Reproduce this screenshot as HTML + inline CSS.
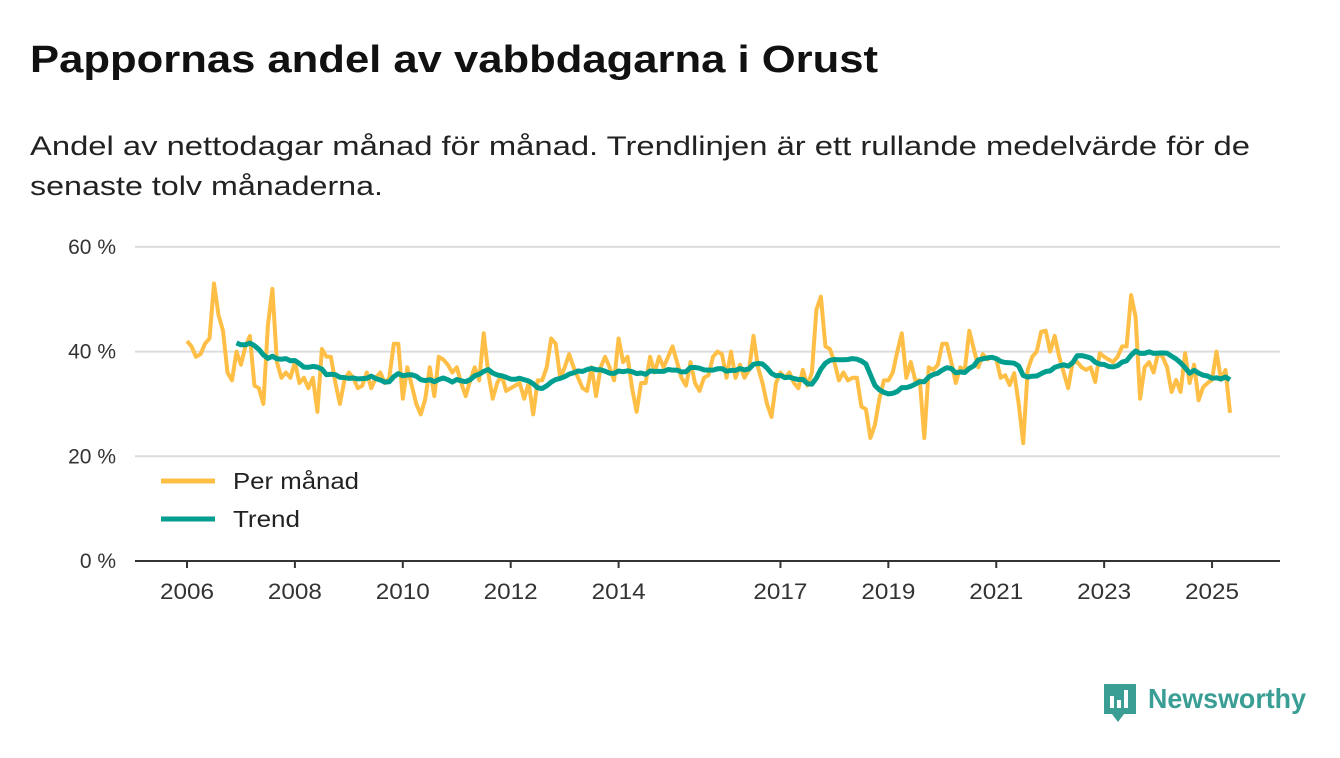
<!DOCTYPE html>
<html><head><meta charset="utf-8"><style>
body{margin:0;background:#fff;width:1340px;height:753px;overflow:hidden;font-family:"Liberation Sans",sans-serif;}
</style></head><body>
<svg width="1340" height="753" xmlns="http://www.w3.org/2000/svg">
<text x="30" y="72" font-size="38" font-weight="bold" fill="#111" textLength="848" lengthAdjust="spacingAndGlyphs">Pappornas andel av vabbdagarna i Orust</text>
<text x="30" y="155" font-size="27" fill="#222" textLength="1220" lengthAdjust="spacingAndGlyphs">Andel av nettodagar månad för månad. Trendlinjen är ett rullande medelvärde för de</text>
<text x="30" y="195" font-size="27" fill="#222" textLength="353" lengthAdjust="spacingAndGlyphs">senaste tolv månaderna.</text>
<g id="grid"></g><g id="xaxis"></g><g id="series"></g>
<g>
<line x1="161" y1="481" x2="215" y2="481" stroke="#ffbf47" stroke-width="5"/>
<text x="233" y="489" font-size="23" fill="#222" textLength="126" lengthAdjust="spacingAndGlyphs">Per månad</text>
<line x1="161" y1="519" x2="215" y2="519" stroke="#009e8f" stroke-width="5"/>
<text x="233" y="527" font-size="23" fill="#222" textLength="67" lengthAdjust="spacingAndGlyphs">Trend</text>
</g>
<g>
<path d="M1104 684h32v30h-12l-6 8-6-8h-8z" fill="#3a9e95"/>
<rect x="1110" y="696" width="4" height="12" fill="#fff"/><rect x="1117" y="700" width="4" height="8" fill="#fff"/><rect x="1124" y="690" width="4" height="18" fill="#fff"/>
<text x="1148" y="708" font-size="28" font-weight="bold" fill="#3a9e95" textLength="158" lengthAdjust="spacingAndGlyphs">Newsworthy</text>
</g>
</svg>
<script>
const startYear = 2006;
const monthly = [
42,41,39,39.5,41.5,42.5,53,47,44,36,34.5,40,
37.5,41,43,33.5,33,30,45,52,38,35,36,35,
38,34,35,33,35,28.5,40.5,39,39,34,30,34.5,
36,35,33,33.5,36,33,35,36,34,35,41.5,41.5,
31,37,33.5,30,28,31,37,31.5,39,38.5,37.5,36,
37,34,31.5,34.5,37,34.5,43.5,36,31,34,35.5,32.5,
33,33.5,34,31,34,28,34.5,34.5,37,42.5,41.5,35,
37,39.5,37,35,33,32.5,37,31.5,37,39,37,34.5,
42.5,38,39,33,28.5,34,34,39,36,39,37,39,
41,38,35,33.5,38,34,32.5,35,35.5,39,40,39.5,
35,40,35,37.5,35,36.5,43,37,34,30,27.5,34,
36,35,36,34,33,36.5,33.5,36,48,50.5,41,40.5,
38,34.5,36,34.5,35,35,29.5,29,23.5,26,31,34.5,
34.5,36,40,43.5,35,38,34.5,34.5,23.5,37,36.5,37.5,
41.5,41.5,38,34,37,36.5,44,40.5,37,39.5,38.5,39,
38.5,35,35.5,33.6,35.9,30,22.5,36.5,39,40,43.8,44,
40,43,39,36,33,38,38,37,36.5,37,34.2,39.7,
39,38.5,38,39,41,41,50.8,46.6,31,37,38,36,
39.7,39,37,32.3,34.6,32.3,39.7,34,37.5,30.7,33.2,34,
34.6,40,34.6,36.5,28.3];
const yTicks = [0,20,40,60];
const xTickYears = [2006,2008,2010,2012,2014,2017,2019,2021,2023,2025];

const NS="http://www.w3.org/2000/svg";
const x0=187, pxYear=53.95, y0=561, pxPct=5.235;
const xm=i=>x0+pxYear*i/12;
const xy=yr=>x0+pxYear*(yr-startYear);
const yv=v=>y0-v*pxPct;
function mk(tag,attrs,parent){const e=document.createElementNS(NS,tag);for(const k in attrs)e.setAttribute(k,attrs[k]);parent.appendChild(e);return e;}
const grid=document.getElementById('grid'),xa=document.getElementById('xaxis'),ser=document.getElementById('series');
yTicks.forEach(t=>{
  if(t>0){const l=mk('line',{x1:135,x2:1280,y1:yv(t),y2:yv(t),stroke:'#dcdcdc','stroke-width':2},grid);
  
  }
  const tx=mk('text',{x:116,y:yv(t)+7,'font-size':21,'text-anchor':'end',fill:'#333'},grid);tx.textContent=t+' %';
  
  
});
const ax=mk('line',{x1:135,x2:1280,y1:y0,y2:y0,stroke:'#333','stroke-width':2},xa);


xTickYears.forEach(yr=>{
  const tk=mk('line',{x1:xy(yr),x2:xy(yr),y1:y0,y2:y0+7,stroke:'#333','stroke-width':2},xa);
  
  
  const tx=mk('text',{x:xy(yr),y:599,'font-size':22,'text-anchor':'middle',fill:'#333',textLength:54,lengthAdjust:'spacingAndGlyphs'},xa);tx.textContent=yr;
  
  
});
const mp=monthly.map((v,i)=>xm(i).toFixed(1)+','+yv(v).toFixed(1)).join(' ');
const pm=mk('polyline',{points:mp,fill:'none',stroke:'#ffbf47','stroke-width':4,'stroke-linejoin':'round'},ser);


const tp=[];
for(let i=11;i<monthly.length;i++){let s=0;for(let j=i-11;j<=i;j++)s+=monthly[j];tp.push(xm(i).toFixed(1)+','+yv(s/12).toFixed(1));}
const pt=mk('polyline',{points:tp.join(' '),fill:'none',stroke:'#009e8f','stroke-width':5,'stroke-linejoin':'round'},ser);


</script>
</body></html>
